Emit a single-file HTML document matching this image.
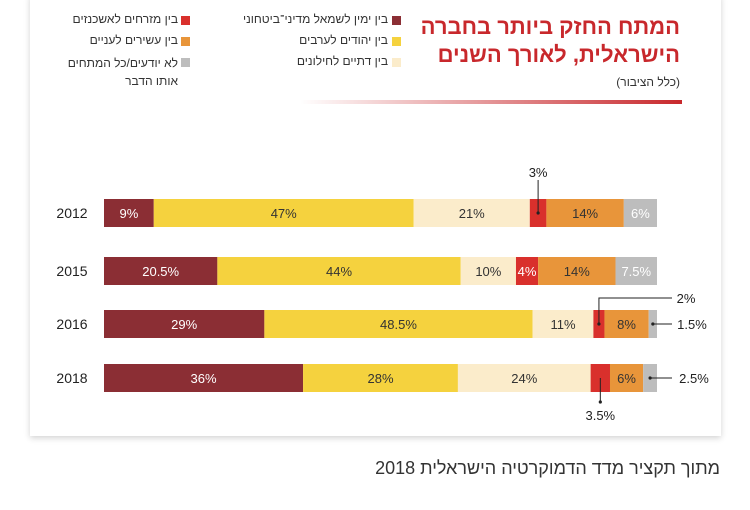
<!DOCTYPE html>
<html><head><meta charset="utf-8">
<style>
body{margin:0;width:750px;height:510px;background:#fff;position:relative;overflow:hidden;font-family:"Liberation Sans","Noto Sans CJK JP",sans-serif;}
#card{position:absolute;left:30px;top:-5px;width:691px;height:441px;background:#fff;box-shadow:0 2px 6px rgba(0,0,0,0.18);}
.he{direction:rtl;position:absolute;white-space:nowrap;}
.sw{position:absolute;width:9px;height:9px;}
</style></head><body>
<div id="card"></div>
<div class="he" style="right:70px;top:13px;font-size:22px;font-weight:bold;color:#c8282c;line-height:28px;text-align:right;">המתח החזק ביותר בחברה<br>הישראלית, לאורך השנים</div>
<div class="he" style="right:70px;top:75px;font-size:12px;color:#333;">(כלל הציבור)</div>
<div style="position:absolute;left:300px;top:100px;width:382px;height:4px;background:linear-gradient(to right,rgba(200,40,44,0),#c8282c);"></div>

<div>
<div class="sw" style="left:392px;top:16px;background:#8b2e34"></div>
<div class="he" style="right:362px;top:12px;font-size:12px;color:#333">בין ימין לשמאל מדיני־ביטחוני</div>
<div class="sw" style="left:392px;top:37px;background:#f5d23e"></div>
<div class="he" style="right:362px;top:33px;font-size:12px;color:#333">בין יהודים לערבים</div>
<div class="sw" style="left:392px;top:58px;background:#fbeccb"></div>
<div class="he" style="right:362px;top:54px;font-size:12px;color:#333">בין דתיים לחילונים</div>
<div class="sw" style="left:181px;top:16px;background:#d9302c"></div>
<div class="he" style="right:572px;top:12px;font-size:12px;color:#333">בין מזרחים לאשכנזים</div>
<div class="sw" style="left:181px;top:37px;background:#e8953a"></div>
<div class="he" style="right:572px;top:33px;font-size:12px;color:#333">בין עשירים לעניים</div>
<div class="sw" style="left:181px;top:58px;background:#bdbdbd"></div>
<div class="he" style="right:572px;top:54px;font-size:12px;color:#333;line-height:18px;text-align:right">לא יודעים/כל המתחים<br>אותו הדבר</div>
</div>

<svg id="chart" width="750" height="510" style="position:absolute;left:0;top:0"></svg>

<div class="he" style="right:30px;top:458px;font-size:18px;color:#333;">מתוך תקציר מדד הדמוקרטיה הישראלית 2018</div>

<script>
const years = ["2012","2015","2016","2018"];
const rightLeft = [9,20.5,29,36];
const jewsArabs = [47,44,48.5,28];
const religiousSecular = [21,10,11,24];
const mizrahiAshkenazi = [3,4,2,3.5];
const richPoor = [14,14,8,6];
const dontKnow = [6,7.5,1.5,2.5];
const series = [rightLeft,jewsArabs,religiousSecular,mizrahiAshkenazi,richPoor,dontKnow];
const seriesNames = ["right-left","jews-arabs","religious-secular","mizrahi-ashkenazi","rich-poor","dont-know"];
const colors = ["#8b2e34","#f5d23e","#fbeccb","#d9302c","#e8953a","#bdbdbd"];
const textColors = ["#fff","#333","#333","#fff","#333","#fff"];

const svg = document.getElementById('chart');
const NS = "http://www.w3.org/2000/svg";
const x0 = 104, x1 = 657;
const xs = v => (v/100)*(x1-x0);
const rowY = [199,257,310,364];
const yOf = i => rowY[i];
const BH = 28;
function mk(tag, attrs){const e=document.createElementNS(NS,tag);for(const k in attrs)e.setAttribute(k,attrs[k]);svg.appendChild(e);return e;}

years.forEach((yr,i)=>{
  const y = yOf(i);
  const t = mk('text',{x:72,y:y+BH/2+5,'text-anchor':'middle','font-size':14,fill:'#222','font-family':'Liberation Sans, sans-serif'});
  t.textContent = yr;
  
  
  let acc = 0;
  series.forEach((s,j)=>{
    const v = s[i];
    const x = x0 + xs(acc);
    const w = xs(v);
    const r = mk('rect',{x:x,y:y,width:w,height:BH,fill:colors[j]});
    
    
    if (v >= 4) {
      const l = mk('text',{x:x+w/2,y:y+BH/2+5,'text-anchor':'middle','font-size':13,fill:textColors[j],'font-family':'Liberation Sans, sans-serif'});
      l.textContent = v+'%';
      
      
    }
    acc += v;
  });
});

function segCenter(i,j){let acc=0;for(let k=0;k<j;k++)acc+=series[k][i];return x0+xs(acc+series[j][i]/2);}
function ann(txt,x,y,name){const t=mk('text',{x:x,y:y,'text-anchor':'middle','font-size':13,fill:'#222','font-family':'Liberation Sans, sans-serif'});t.textContent=txt;}
function line(pts,name){const p=mk('polyline',{points:pts.map(a=>a.join(',')).join(' '),fill:'none',stroke:'#222','stroke-width':1});}
function dot(x,y){const c=mk('circle',{cx:x,cy:y,r:1.6,fill:'#222'});}

let cx = segCenter(0,3);
line([[cx,yOf(0)+BH/2],[cx,180]],'leader-mizrahi-2012'); dot(cx,yOf(0)+BH/2);
ann(mizrahiAshkenazi[0]+'%',cx,177,'annotation-mizrahi-2012');
cx = segCenter(2,3);
line([[cx,yOf(2)+BH/2],[cx,298],[672,298]],'leader-mizrahi-2016'); dot(cx,yOf(2)+BH/2);
ann(mizrahiAshkenazi[2]+'%',686,303,'annotation-mizrahi-2016');
cx = segCenter(2,5);
line([[cx,yOf(2)+BH/2],[672,yOf(2)+BH/2]],'leader-dont-know-2016'); dot(cx,yOf(2)+BH/2);
ann(dontKnow[2]+'%',692,yOf(2)+BH/2+5,'annotation-dont-know-2016');
cx = segCenter(3,5);
line([[cx,yOf(3)+BH/2],[672,yOf(3)+BH/2]],'leader-dont-know-2018'); dot(cx,yOf(3)+BH/2);
ann(dontKnow[3]+'%',694,yOf(3)+BH/2+5,'annotation-dont-know-2018');
cx = segCenter(3,3);
line([[cx,yOf(3)+BH/2],[cx,402]],'leader-mizrahi-2018'); dot(cx,402);
ann(mizrahiAshkenazi[3]+'%',cx,420,'annotation-mizrahi-2018');
</script>
</body></html>
